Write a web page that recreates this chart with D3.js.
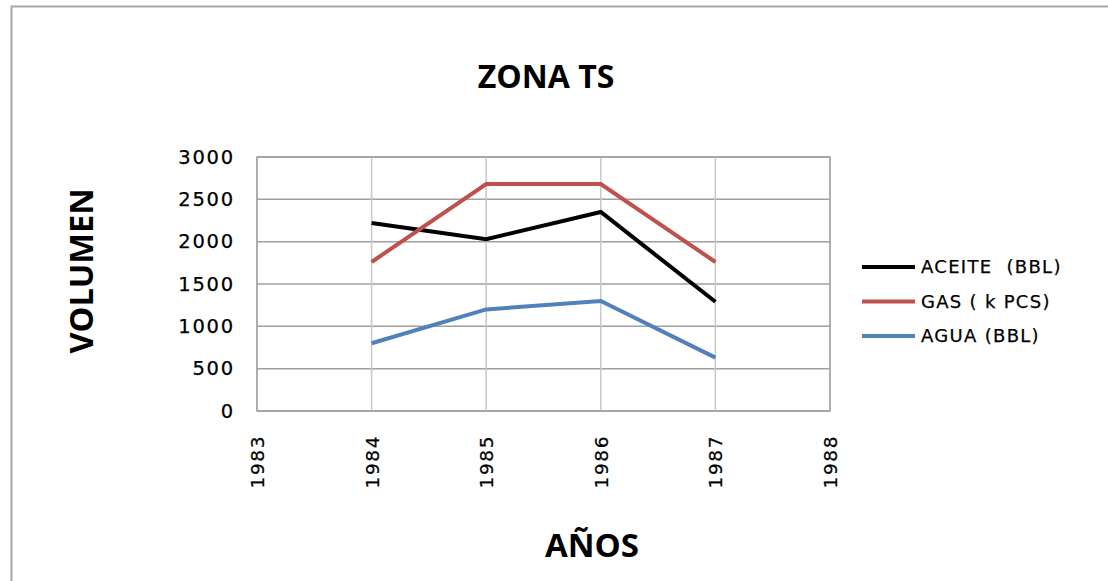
<!DOCTYPE html>
<html>
<head>
<meta charset="utf-8">
<script src="https://cdn.jsdelivr.net/npm/d3@7"></script>
<style>
  html, body { margin: 0; padding: 0; background: #fff; }
  svg { display: block; }
  text { white-space: pre; }
</style>
</head>
<body>
<script>
// Production volumes for ZONA TS, 1984–1987
const years = [1984, 1985, 1986, 1987];
const aceite = [2220, 2030, 2350, 1290];
const gas = [1760, 2680, 2680, 1760];
const agua = [800, 1200, 1300, 630];
const seriesNames = ["ACEITE  (BBL)", "GAS ( k PCS)", "AGUA (BBL)"];
const seriesColors = ["#000000", "#c0504d", "#4f81bd"];
const yTicks = [0, 500, 1000, 1500, 2000, 2500, 3000];
const xTicks = [1983, 1984, 1985, 1986, 1987, 1988];

const W = 1108, H = 581;
const plot = { left: 257, right: 830, top: 157, bottom: 411 };

const svg = d3.select("body").append("svg")
  .attr("width", W).attr("height", H);

// Chart frame (left and top edges visible)
svg.append("path")
  .attr("d", `M11.5,${H} L11.5,6.5 L${W},6.5`)
  .attr("fill", "none").attr("stroke", "#a6a6a6").attr("stroke-width", 2);

const x = d3.scaleLinear().domain([1983, 1988]).range([plot.left, plot.right]);
const y = d3.scaleLinear().domain([0, 3000]).range([plot.bottom, plot.top]);

// Gridlines
const grid = svg.append("g");
grid.selectAll("line.h").data(yTicks).join("line")
  .attr("x1", plot.left).attr("x2", plot.right)
  .attr("y1", d => y(d)).attr("y2", d => y(d))
  .attr("stroke", "#a0a0a0").attr("stroke-width", 1.5);
grid.selectAll("line.v").data(xTicks).join("line")
  .attr("y1", plot.top).attr("y2", plot.bottom)
  .attr("x1", d => x(d)).attr("x2", d => x(d))
  .attr("stroke", "#c8c8c8").attr("stroke-width", 1.5);
// Plot border
svg.append("rect")
  .attr("x", plot.left).attr("y", plot.top)
  .attr("width", plot.right - plot.left).attr("height", plot.bottom - plot.top)
  .attr("fill", "none").attr("stroke", "#a0a0a0").attr("stroke-width", 1.5);

// Y axis labels
const yAxis = d3.axisLeft(y).tickValues(yTicks).tickSize(0).tickPadding(22)
  .tickFormat(d3.format("d"));
const yg = svg.append("g").attr("transform", `translate(${plot.left},0)`).call(yAxis);
yg.select(".domain").remove();
yg.selectAll("text")
  .attr("font-family", "DejaVu Sans").attr("font-size", 19.5)
  .attr("letter-spacing", 1.8).attr("fill", "#000")
  .attr("stroke", "#000").attr("stroke-width", 0.25);

// X axis labels, rotated
const xAxis = d3.axisBottom(x).tickValues(xTicks).tickSize(0).tickFormat(d3.format("d"));
const xg = svg.append("g").attr("transform", `translate(0,${plot.bottom})`).call(xAxis);
xg.select(".domain").remove();
xg.selectAll("text")
  .attr("font-family", "DejaVu Sans").attr("font-size", 18.5)
  .attr("letter-spacing", 1.6).attr("fill", "#000")
  .attr("stroke", "#000").attr("stroke-width", 0.25)
  .attr("text-anchor", "end")
  .attr("dy", null).attr("y", 0)
  .attr("dominant-baseline", "central")
  .attr("transform", "translate(0,24) rotate(-90)");

// Series lines
const series = [aceite, gas, agua];
const line = d3.line().x((d, i) => x(years[i])).y(d => y(d));
series.forEach((vals, k) => {
  svg.append("path").datum(vals)
    .attr("d", line)
    .attr("fill", "none")
    .attr("stroke", seriesColors[k])
    .attr("stroke-width", 4)
    .attr("stroke-linejoin", "miter");
});

// Titles
svg.append("text").text("ZONA TS")
  .attr("x", 546).attr("y", 88).attr("text-anchor", "middle")
  .attr("font-family", "Open Sans").attr("font-weight", "bold").attr("font-size", 32);
svg.append("text").text("AÑOS")
  .attr("x", 592).attr("y", 557).attr("text-anchor", "middle")
  .attr("font-family", "Open Sans").attr("font-weight", "bold").attr("font-size", 33);
svg.append("text").text("VOLUMEN")
  .attr("transform", "translate(93,271) rotate(-90)").attr("text-anchor", "middle")
  .attr("font-family", "Open Sans").attr("font-weight", "bold").attr("font-size", 32.5);

// Legend
const legend = svg.append("g");
seriesNames.forEach((name, k) => {
  const ly = 267 + k * 34.5;
  legend.append("line")
    .attr("x1", 862).attr("x2", 915).attr("y1", ly).attr("y2", ly)
    .attr("stroke", seriesColors[k]).attr("stroke-width", 4);
  legend.append("text").text(name)
    .attr("x", 921).attr("y", ly).attr("dy", "0.36em")
    .attr("font-family", "DejaVu Sans").attr("font-size", 18)
    .attr("letter-spacing", 1.3).attr("fill", "#000")
    .attr("stroke", "#000").attr("stroke-width", 0.25);
});
</script>
</body>
</html>
